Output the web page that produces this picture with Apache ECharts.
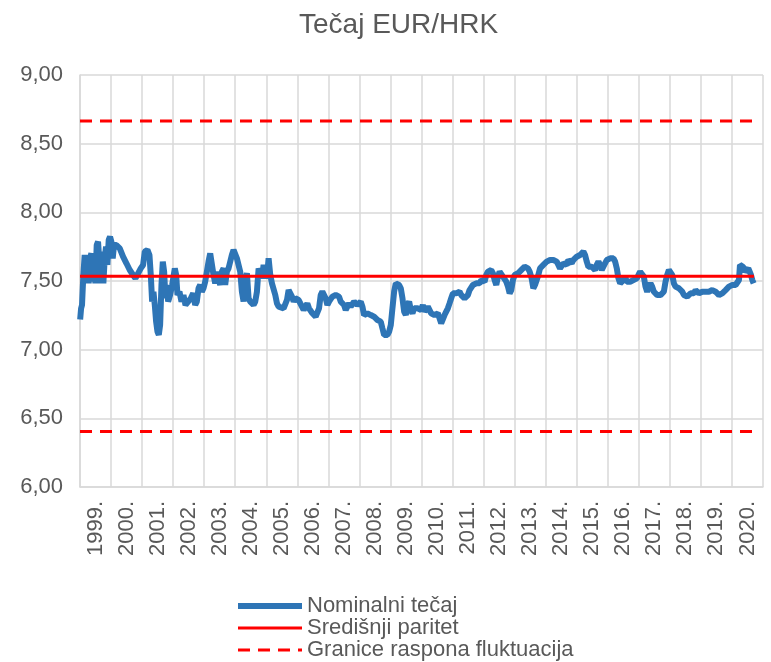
<!DOCTYPE html>
<html><head><meta charset="utf-8">
<script src="https://cdn.jsdelivr.net/npm/echarts@6/dist/echarts.min.js"></script>
<style>html,body{margin:0;padding:0;background:#fff}#c{width:771px;height:662px}</style>
</head><body><div id="c"></div>
<script>
// Category labels (years)
const years = ['1999.','2000.','2001.','2002.','2003.','2004.','2005.','2006.','2007.','2008.','2009.',
  '2010.','2011.','2012.','2013.','2014.','2015.','2016.','2017.','2018.','2019.','2020.'];

// Nominal EUR/HRK rate: decimal year and value
const dates = [
  1999.005,1999.035,1999.065,1999.108,1999.151,1999.194,1999.237,1999.280,1999.323,1999.366,
  1999.409,1999.452,1999.495,1999.538,1999.581,1999.624,1999.667,1999.710,1999.753,1999.796,
  1999.839,1999.882,1999.925,1999.968,2000.011,2000.054,2000.097,2000.172,2000.280,2000.387,
  2000.495,2000.602,2000.710,2000.785,2000.871,2000.957,2001.033,2001.087,2001.172,2001.237,
  2001.280,2001.323,2001.366,2001.409,2001.452,2001.495,2001.538,2001.581,2001.624,2001.667,
  2001.710,2001.753,2001.796,2001.839,2001.903,2001.968,2002.054,2002.097,2002.140,2002.204,
  2002.269,2002.333,2002.398,2002.484,2002.570,2002.645,
  2002.710,2002.763,2002.817,2002.871,2002.925,2002.978,2003.032,2003.086,2003.140,2003.194,
  2003.247,2003.301,2003.355,2003.409,2003.462,2003.516,2003.570,2003.624,2003.677,2003.731,
  2003.785,2003.839,2003.892,2003.946,2004.000,2004.054,2004.107,2004.161,2004.215,2004.269,
  2004.323,2004.376,2004.430,2004.484,2004.538,2004.591,2004.645,2004.699,2004.753,2004.807,
  2004.860,2004.914,2004.968,2005.021,2005.075,2005.129,2005.183,2005.237,2005.290,2005.344,
  2005.398,2005.452,2005.559,2005.667,2005.720,2005.774,2005.828,2005.882,2005.935,2005.989,
  2006.043,2006.097,2006.150,2006.204,
  2006.322,2006.376,2006.430,2006.484,2006.538,2006.591,2006.645,2006.699,2006.753,2006.806,
  2006.860,2006.914,2006.968,2007.021,2007.075,2007.129,2007.183,2007.237,2007.290,2007.344,
  2007.398,2007.452,2007.505,2007.559,2007.613,2007.667,2007.720,2007.774,2007.828,2007.882,
  2007.935,2007.989,2008.043,2008.097,2008.150,2008.204,2008.258,2008.312,2008.366,2008.419,
  2008.473,2008.527,2008.581,2008.634,2008.688,2008.742,2008.796,2008.849,2008.903,2008.957,
  2009.011,2009.064,2009.118,2009.172,2009.226,2009.280,2009.333,2009.387,2009.441,2009.495,
  2009.548,2009.602,2009.656,2009.710,2009.763,2009.817,2009.871,
  2009.935,2009.989,2010.043,2010.097,2010.150,2010.204,2010.258,2010.312,2010.366,2010.419,
  2010.473,2010.527,2010.581,2010.634,2010.688,2010.742,2010.796,2010.849,2010.903,2010.957,
  2011.011,2011.064,2011.118,2011.172,2011.226,2011.279,2011.333,2011.387,2011.441,2011.495,
  2011.548,2011.602,2011.656,2011.710,2011.763,2011.817,2011.871,2011.925,2011.978,2012.032,
  2012.086,2012.140,2012.193,2012.247,2012.301,2012.355,2012.409,2012.462,2012.516,2012.570,
  2012.624,2012.677,2012.731,2012.785,2012.839,2012.892,2012.946,2013.000,2013.054,2013.107,
  2013.161,2013.215,2013.269,2013.323,2013.376,2013.430,2013.484,
  2013.548,2013.602,2013.656,2013.710,2013.763,2013.817,2013.871,2013.925,2013.978,2014.032,
  2014.086,2014.140,2014.193,2014.247,2014.301,2014.355,2014.409,2014.462,2014.516,2014.570,
  2014.624,2014.677,2014.731,2014.785,2014.839,2014.892,2014.946,2015.000,2015.054,2015.107,
  2015.161,2015.215,2015.269,2015.323,2015.376,2015.430,2015.484,2015.538,2015.591,2015.645,
  2015.699,2015.753,2015.806,2015.860,2015.914,2015.968,2016.021,2016.075,2016.129,2016.183,
  2016.237,2016.290,2016.344,2016.398,2016.452,2016.505,2016.559,2016.613,2016.667,2016.720,
  2016.774,2016.828,2016.882,2016.935,2016.989,2017.043,2017.097,
  2017.161,2017.215,2017.269,2017.323,2017.376,2017.430,2017.484,2017.538,2017.591,2017.645,
  2017.699,2017.753,2017.806,2017.860,2017.914,2017.968,2018.021,2018.075,2018.129,2018.183,
  2018.237,2018.290,2018.344,2018.398,2018.452,2018.505,2018.559,2018.613,2018.667,2018.720,
  2018.774,2018.828,2018.882,2018.935,2018.989,2019.043,2019.097,2019.150,2019.204,2019.258,
  2019.312,2019.366,2019.419,2019.473,2019.527,2019.581,2019.634,2019.688,2019.742,2019.796,
  2019.849,2019.903,2019.957,2020.011,2020.064,2020.118,2020.172,2020.226,2020.258,2020.312,
  2020.355,2020.419,2020.462,2020.527,2020.570,2020.613,2020.656,2020.699
];
const rates = [
  7.220,7.300,7.325,7.544,7.689,7.568,7.689,7.483,7.665,7.701,
  7.495,7.677,7.483,7.762,7.786,7.641,7.483,7.714,7.483,7.665,
  7.750,7.617,7.799,7.823,7.786,7.665,7.762,7.762,7.738,7.677,
  7.629,7.580,7.544,7.519,7.556,7.592,7.617,7.714,7.726,7.689,
  7.544,7.350,7.422,7.325,7.204,7.131,7.107,7.180,7.471,7.641,
  7.568,7.374,7.471,7.350,7.398,7.471,7.592,7.544,7.398,7.422,
  7.350,7.398,7.325,7.350,7.374,7.410,
  7.325,7.350,7.447,7.471,7.422,7.447,7.495,7.568,7.641,7.701,
  7.714,7.544,7.483,7.568,7.519,7.471,7.568,7.592,7.471,7.568,
  7.592,7.641,7.689,7.726,7.714,7.665,7.617,7.568,7.422,7.350,
  7.507,7.556,7.374,7.350,7.337,7.325,7.350,7.422,7.592,7.592,
  7.519,7.617,7.568,7.519,7.665,7.544,7.483,7.471,7.398,7.337,
  7.313,7.301,7.301,7.362,7.434,7.447,7.386,7.350,7.374,7.386,
  7.362,7.337,7.313,7.289,
  7.337,7.301,7.289,7.265,7.252,7.240,7.252,7.301,7.398,7.422,
  7.410,7.374,7.325,7.350,7.362,7.386,7.374,7.398,7.410,7.386,
  7.350,7.337,7.325,7.289,7.313,7.337,7.313,7.325,7.350,7.337,
  7.325,7.337,7.350,7.313,7.252,7.240,7.265,7.265,7.252,7.240,
  7.240,7.228,7.216,7.228,7.204,7.155,7.107,7.095,7.107,7.131,
  7.180,7.301,7.422,7.483,7.495,7.471,7.447,7.374,7.277,7.252,
  7.325,7.350,7.289,7.265,7.301,7.313,7.301,
  7.301,7.289,7.325,7.277,7.289,7.313,7.301,7.265,7.277,7.252,
  7.265,7.265,7.228,7.192,7.204,7.252,7.277,7.301,7.337,7.374,
  7.410,7.422,7.410,7.398,7.422,7.398,7.386,7.374,7.362,7.398,
  7.434,7.434,7.471,7.459,7.483,7.471,7.483,7.507,7.519,7.495,
  7.544,7.568,7.580,7.580,7.556,7.507,7.471,7.532,7.568,7.556,
  7.532,7.519,7.495,7.459,7.410,7.434,7.507,7.544,7.532,7.556,
  7.568,7.580,7.592,7.604,7.617,7.592,7.568,
  7.519,7.447,7.471,7.483,7.544,7.592,7.604,7.617,7.629,7.641,
  7.641,7.653,7.641,7.653,7.665,7.641,7.617,7.592,7.604,7.629,
  7.641,7.617,7.653,7.641,7.629,7.653,7.665,7.677,7.665,7.689,
  7.701,7.714,7.689,7.641,7.604,7.592,7.604,7.592,7.580,7.617,
  7.641,7.617,7.580,7.592,7.629,7.653,7.665,7.665,7.677,7.665,
  7.641,7.592,7.519,7.483,7.495,7.507,7.532,7.495,7.483,7.495,
  7.495,7.507,7.507,7.519,7.544,7.568,7.580,
  7.532,7.459,7.422,7.459,7.483,7.459,7.422,7.410,7.398,7.410,
  7.398,7.398,7.422,7.495,7.544,7.580,7.568,7.544,7.483,7.459,
  7.447,7.447,7.434,7.422,7.398,7.386,7.386,7.398,7.410,7.422,
  7.410,7.434,7.422,7.410,7.422,7.422,7.410,7.422,7.434,7.422,
  7.422,7.434,7.434,7.422,7.410,7.398,7.398,7.410,7.410,7.434,
  7.447,7.459,7.459,7.471,7.471,7.471,7.471,7.507,7.617,7.629,
  7.604,7.568,7.580,7.592,7.568,7.544,7.507,7.483
];

// Reference lines (ERM II central parity and ±15% band)
const parity = 7.5345;
const bandUpper = 8.6647;
const bandLower = 6.4043;
const refStart = 1999.0;
const refEnd = 2020.71;

// Axis settings
const yMin = 6, yMax = 9, yStep = 0.5;
const xMin = 1999, xMax = 2021;

const seriesNames = ['Nominalni tečaj', 'Središnji paritet', 'Granice raspona fluktuacija'];

const FONT = "'Liberation Sans', Arial, sans-serif";
const GREY = '#595959';
const GRID = '#D9D9D9';
const BLUE = '#2E75B6';
const RED = '#FF0000';
const HIDE = {opacity: 0, color: 'rgba(0,0,0,0)', borderWidth: 0};

const nominal = dates.map((d, i) => [d, rates[i]]);

const chart = echarts.init(document.getElementById('c'), null, {renderer: 'canvas'});
chart.setOption({
  animation: false,
  backgroundColor: '#fff',
  textStyle: {fontFamily: FONT},
  title: {
    text: 'Tečaj EUR/HRK',
    left: 294, top: 6,
    textStyle: {fontFamily: FONT, fontSize: 28, fontWeight: 'normal', color: GREY}
  },
  grid: {left: 80, right: 8, top: 75, bottom: 175, containLabel: false},
  legend: {
    type: 'plain',
    orient: 'vertical',
    left: 235, top: 595, height: 80,
    padding: 0,
    itemWidth: 64, itemHeight: 12, itemGap: 0,
    textStyle: {fontFamily: FONT, fontSize: 22, color: GREY, lineHeight: 22},
    data: [
      {name: seriesNames[0], itemStyle: HIDE, lineStyle: {width: 6, color: BLUE}},
      {name: seriesNames[1], itemStyle: HIDE, lineStyle: {width: 3, color: RED}},
      {name: seriesNames[2], itemStyle: HIDE, lineStyle: {width: 3, color: RED, type: [12, 8]}}
    ]
  },
  xAxis: [
    {
      type: 'category', data: years, boundaryGap: true, position: 'bottom',
      axisLine: {show: true, lineStyle: {color: GRID, width: 1.5}},
      axisTick: {show: false},
      splitLine: {show: true, interval: 0, lineStyle: {color: GRID, width: 1.5}},
      axisLabel: {interval: 0, rotate: 90, fontSize: 22, color: GREY, margin: 14, fontFamily: FONT}
    },
    {type: 'value', min: xMin, max: xMax, show: false}
  ],
  yAxis: {
    type: 'value', min: yMin, max: yMax, interval: yStep,
    axisLine: {show: true, lineStyle: {color: GRID, width: 1.5}},
    axisTick: {show: false},
    splitLine: {lineStyle: {color: GRID, width: 1.5}},
    axisLabel: {fontSize: 22, color: GREY, margin: 17, fontFamily: FONT,
      formatter: v => v.toFixed(2).replace('.', ',')}
  },
  series: [
    {
      name: seriesNames[0], type: 'line', xAxisIndex: 1, data: nominal,
      symbol: 'none', lineStyle: {color: BLUE, width: 6}, itemStyle: {color: BLUE},
      z: 2
    },
    {
      name: seriesNames[1], type: 'line', xAxisIndex: 1,
      data: [[refStart, parity], [refEnd, parity]],
      symbol: 'none', lineStyle: {color: RED, width: 3}, itemStyle: {color: RED}, z: 3
    },
    {
      name: seriesNames[2], type: 'line', xAxisIndex: 1,
      data: [[refStart, bandUpper], [refEnd, bandUpper]],
      symbol: 'none', lineStyle: {color: RED, width: 3, type: [12, 8]}, itemStyle: {color: RED}, z: 3
    },
    {
      name: seriesNames[2], type: 'line', xAxisIndex: 1,
      data: [[refStart, bandLower], [refEnd, bandLower]],
      symbol: 'none', lineStyle: {color: RED, width: 3, type: [12, 8]}, itemStyle: {color: RED}, z: 3
    }
  ]
});
</script>
</body></html>
